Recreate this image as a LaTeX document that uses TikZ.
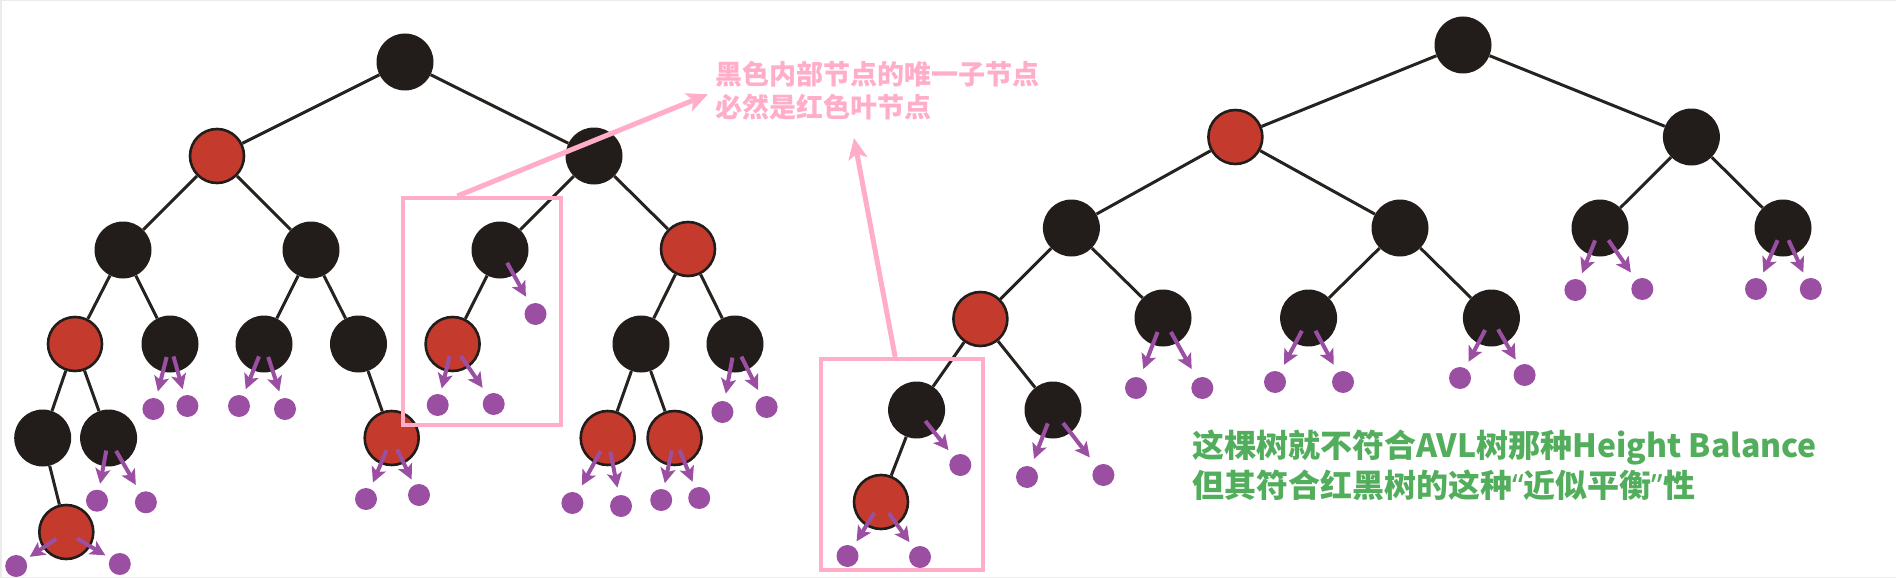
\documentclass[tikz,border=0pt]{standalone}
\usepackage{fontspec}
\newfontfamily\cjk{Noto Sans CJK SC}
\newfontfamily\latinq{Noto Sans}
\usetikzlibrary{arrows.meta,calc}
\definecolor{nblack}{HTML}{221D1A}
\definecolor{nred}{HTML}{C43A2D}
\definecolor{npurple}{HTML}{9B4FA3}
\definecolor{npink}{HTML}{FFADC9}
\definecolor{ngreen}{HTML}{52AE5C}
\definecolor{nedge}{HTML}{262220}
\definecolor{nframe}{HTML}{EBEBEB}
\begin{document}
\begin{tikzpicture}[x=1pt,y=-1pt,
  bn/.style={circle,fill=nblack,minimum size=57pt,inner sep=0pt},
  rn/.style={circle,fill=nred,draw=nblack,line width=2.6pt,minimum size=54pt,inner sep=0pt},
  leafdot/.style={circle,fill=npurple,minimum size=22pt,inner sep=0pt},
  treeedge/.style={draw=nedge,line width=3pt},
  parr/.style={draw=npurple,line width=4pt,-{Stealth[length=15pt,width=15pt,inset=3.5pt]}},
  pinkbox/.style={draw=npink,line width=4pt,inner sep=0pt},
  pinkarr/.style={draw=npink,line width=5pt,-{Stealth[length=21pt,width=19pt,inset=5pt]}},
  pinktext/.style={anchor=base west,inner sep=0pt,text=npink,font=\cjk\bfseries\fontsize{27}{33}\selectfont},
  greentext/.style={anchor=base west,inner sep=0pt,text=ngreen,font=\cjk\bfseries\fontsize{32}{40}\selectfont},
]
\useasboundingbox (0,0) rectangle (1896,578);
\draw[nframe,line width=1.5pt] (1896,0.75) -- (0.75,0.75) -- (0.75,577.25) -- (1896,577.25);

% ---------- left tree ----------
\node[bn] (Lr) at (405,62) {};
\node[rn] (La) at (217,156) {};
\node[bn] (Lb) at (594,156) {};
\node[bn] (Laa) at (123,250) {};
\node[bn] (Lab) at (311,250) {};
\node[bn] (Lba) at (500,250) {};
\node[rn] (Lbb) at (688,249) {};
\node[rn] (Laaa) at (75,344) {};
\node[bn] (Laab) at (170,344) {};
\node[bn] (Laba) at (264,344) {};
\node[bn] (Labb) at (358.5,344) {};
\node[rn] (Lbaa) at (452.6,344) {};
\node[bn] (Lbba) at (641,344) {};
\node[bn] (Lbbb) at (735,344) {};
\node[bn] (Laaaa) at (42.7,438) {};
\node[bn] (Laaab) at (108.6,438) {};
\node[rn] (Labbb) at (391.7,438) {};
\node[rn] (Lbbaa) at (607.7,438) {};
\node[rn] (Lbbab) at (674.6,438) {};
\node[rn] (Laaaab) at (66.3,532) {};

% leaf dots left
\node[leafdot] (p1) at (153.4,409) {};
\node[leafdot] (p2) at (187.4,406) {};
\node[leafdot] (p3) at (239,406) {};
\node[leafdot] (p4) at (285,409) {};
\node[leafdot] (p5) at (535.5,314) {};
\node[leafdot] (p6) at (437.7,405) {};
\node[leafdot] (p7) at (493.7,404) {};
\node[leafdot] (p8) at (722.4,412) {};
\node[leafdot] (p9) at (766.6,407) {};
\node[leafdot] (p10) at (97,500.7) {};
\node[leafdot] (p11) at (145.9,502.3) {};
\node[leafdot] (p12) at (366,499) {};
\node[leafdot] (p13) at (419,495) {};
\node[leafdot] (p14) at (572.4,503) {};
\node[leafdot] (p15) at (621,506) {};
\node[leafdot] (p16) at (661.2,500) {};
\node[leafdot] (p17) at (699.2,498) {};
\node[leafdot] (p18) at (16.2,566) {};
\node[leafdot] (p19) at (119.8,564) {};

% ---------- right tree ----------
\node[bn] (Rr) at (1463,45) {};
\node[rn] (Ra) at (1235.4,137) {};
\node[bn] (Rb) at (1691.4,137) {};
\node[bn] (Raa) at (1071.4,228) {};
\node[bn] (Rab) at (1400,228) {};
\node[bn] (Rba) at (1600,228) {};
\node[bn] (Rbb) at (1783,228) {};
\node[rn] (Raaa) at (980.4,319) {};
\node[bn] (Raab) at (1163,318) {};
\node[bn] (Raba) at (1308.6,318) {};
\node[bn] (Rabb) at (1491.4,318) {};
\node[bn] (Raaaa) at (916.6,410) {};
\node[bn] (Raaab) at (1053,410) {};
\node[rn] (Raaaaa) at (881,502) {};

\node[leafdot] (q1) at (1575.4,290) {};
\node[leafdot] (q2) at (1642.3,289) {};
\node[leafdot] (q3) at (1756,289) {};
\node[leafdot] (q4) at (1810.8,289) {};
\node[leafdot] (q5) at (1136,388) {};
\node[leafdot] (q6) at (1202.3,388) {};
\node[leafdot] (q7) at (1275,382) {};
\node[leafdot] (q8) at (1343,382) {};
\node[leafdot] (q9) at (1460,378) {};
\node[leafdot] (q10) at (1524.6,375) {};
\node[leafdot] (q11) at (960.3,465) {};
\node[leafdot] (q12) at (1027,477) {};
\node[leafdot] (q13) at (1103.4,475) {};
\node[leafdot] (q14) at (847.5,556) {};
\node[leafdot] (q15) at (920,557) {};

% ---------- edges ----------
\foreach \a/\b in {Lr/La,Lr/Lb,La/Laa,La/Lab,Lb/Lba,Lb/Lbb,Laa/Laaa,Laa/Laab,Lab/Laba,Lab/Labb,
  Lba/Lbaa,Lbb/Lbba,Lbb/Lbbb,Laaa/Laaaa,Laaa/Laaab,Labb/Labbb,Lbba/Lbbaa,Lbba/Lbbab,Laaaa/Laaaab,
  Rr/Ra,Rr/Rb,Ra/Raa,Ra/Rab,Rb/Rba,Rb/Rbb,Raa/Raaa,Raa/Raab,Rab/Raba,Rab/Rabb,
  Raaa/Raaaa,Raaa/Raaab,Raaaa/Raaaaa}
  \draw[treeedge] (\a) -- (\b);

% ---------- purple arrows ----------
\foreach \n/\d in {Laab/p1,Laab/p2,Laba/p3,Laba/p4,Lba/p5,Lbaa/p6,Lbaa/p7,Lbbb/p8,Lbbb/p9,
  Laaab/p10,Laaab/p11,Labbb/p12,Labbb/p13,Lbbaa/p14,Lbbaa/p15,Lbbab/p16,Lbbab/p17,Laaaab/p18,Laaaab/p19,
  Rba/q1,Rba/q2,Rbb/q3,Rbb/q4,Raab/q5,Raab/q6,Raba/q7,Raba/q8,Rabb/q9,Rabb/q10,Raaaa/q11,
  Raaab/q12,Raaab/q13,Raaaaa/q14,Raaaaa/q15}
  \draw[parr] ($(\n)!0.2!(\d)$) -- ($(\n)!0.73!(\d)$);

% ---------- texts ----------
\node[pinktext] (t1) at (715,84.3) {黑色内部节点的唯一子节点};
\node[pinktext] (t2) at (715,117.6) {必然是红色叶节点};
\node[greentext] (g1) at (1192,457) {这棵树就不符合AVL树那种Height Balance};
\node[greentext] (g2) at (1192,497.5) {但其符合红黑树的这种{\latinq\bfseries “}近似平衡{\latinq\bfseries ”}性};

% ---------- pink boxes and arrows ----------
\node[pinkbox,minimum width=158pt,minimum height=227pt] (B1) at (482,311.5) {};
\node[pinkbox,minimum width=161.6pt,minimum height=211pt] (B2) at (901.8,464.5) {};
\coordinate (tip1) at (708,94.3);
\coordinate (tip2) at (854,138);
\draw[pinkarr] ($(B1.north west)!0.348!(B1.north east)$) -- (tip1);
\draw[pinkarr] ($(B2.north west)!0.46!(B2.north east)$) -- (tip2);
\end{tikzpicture}
\end{document}
